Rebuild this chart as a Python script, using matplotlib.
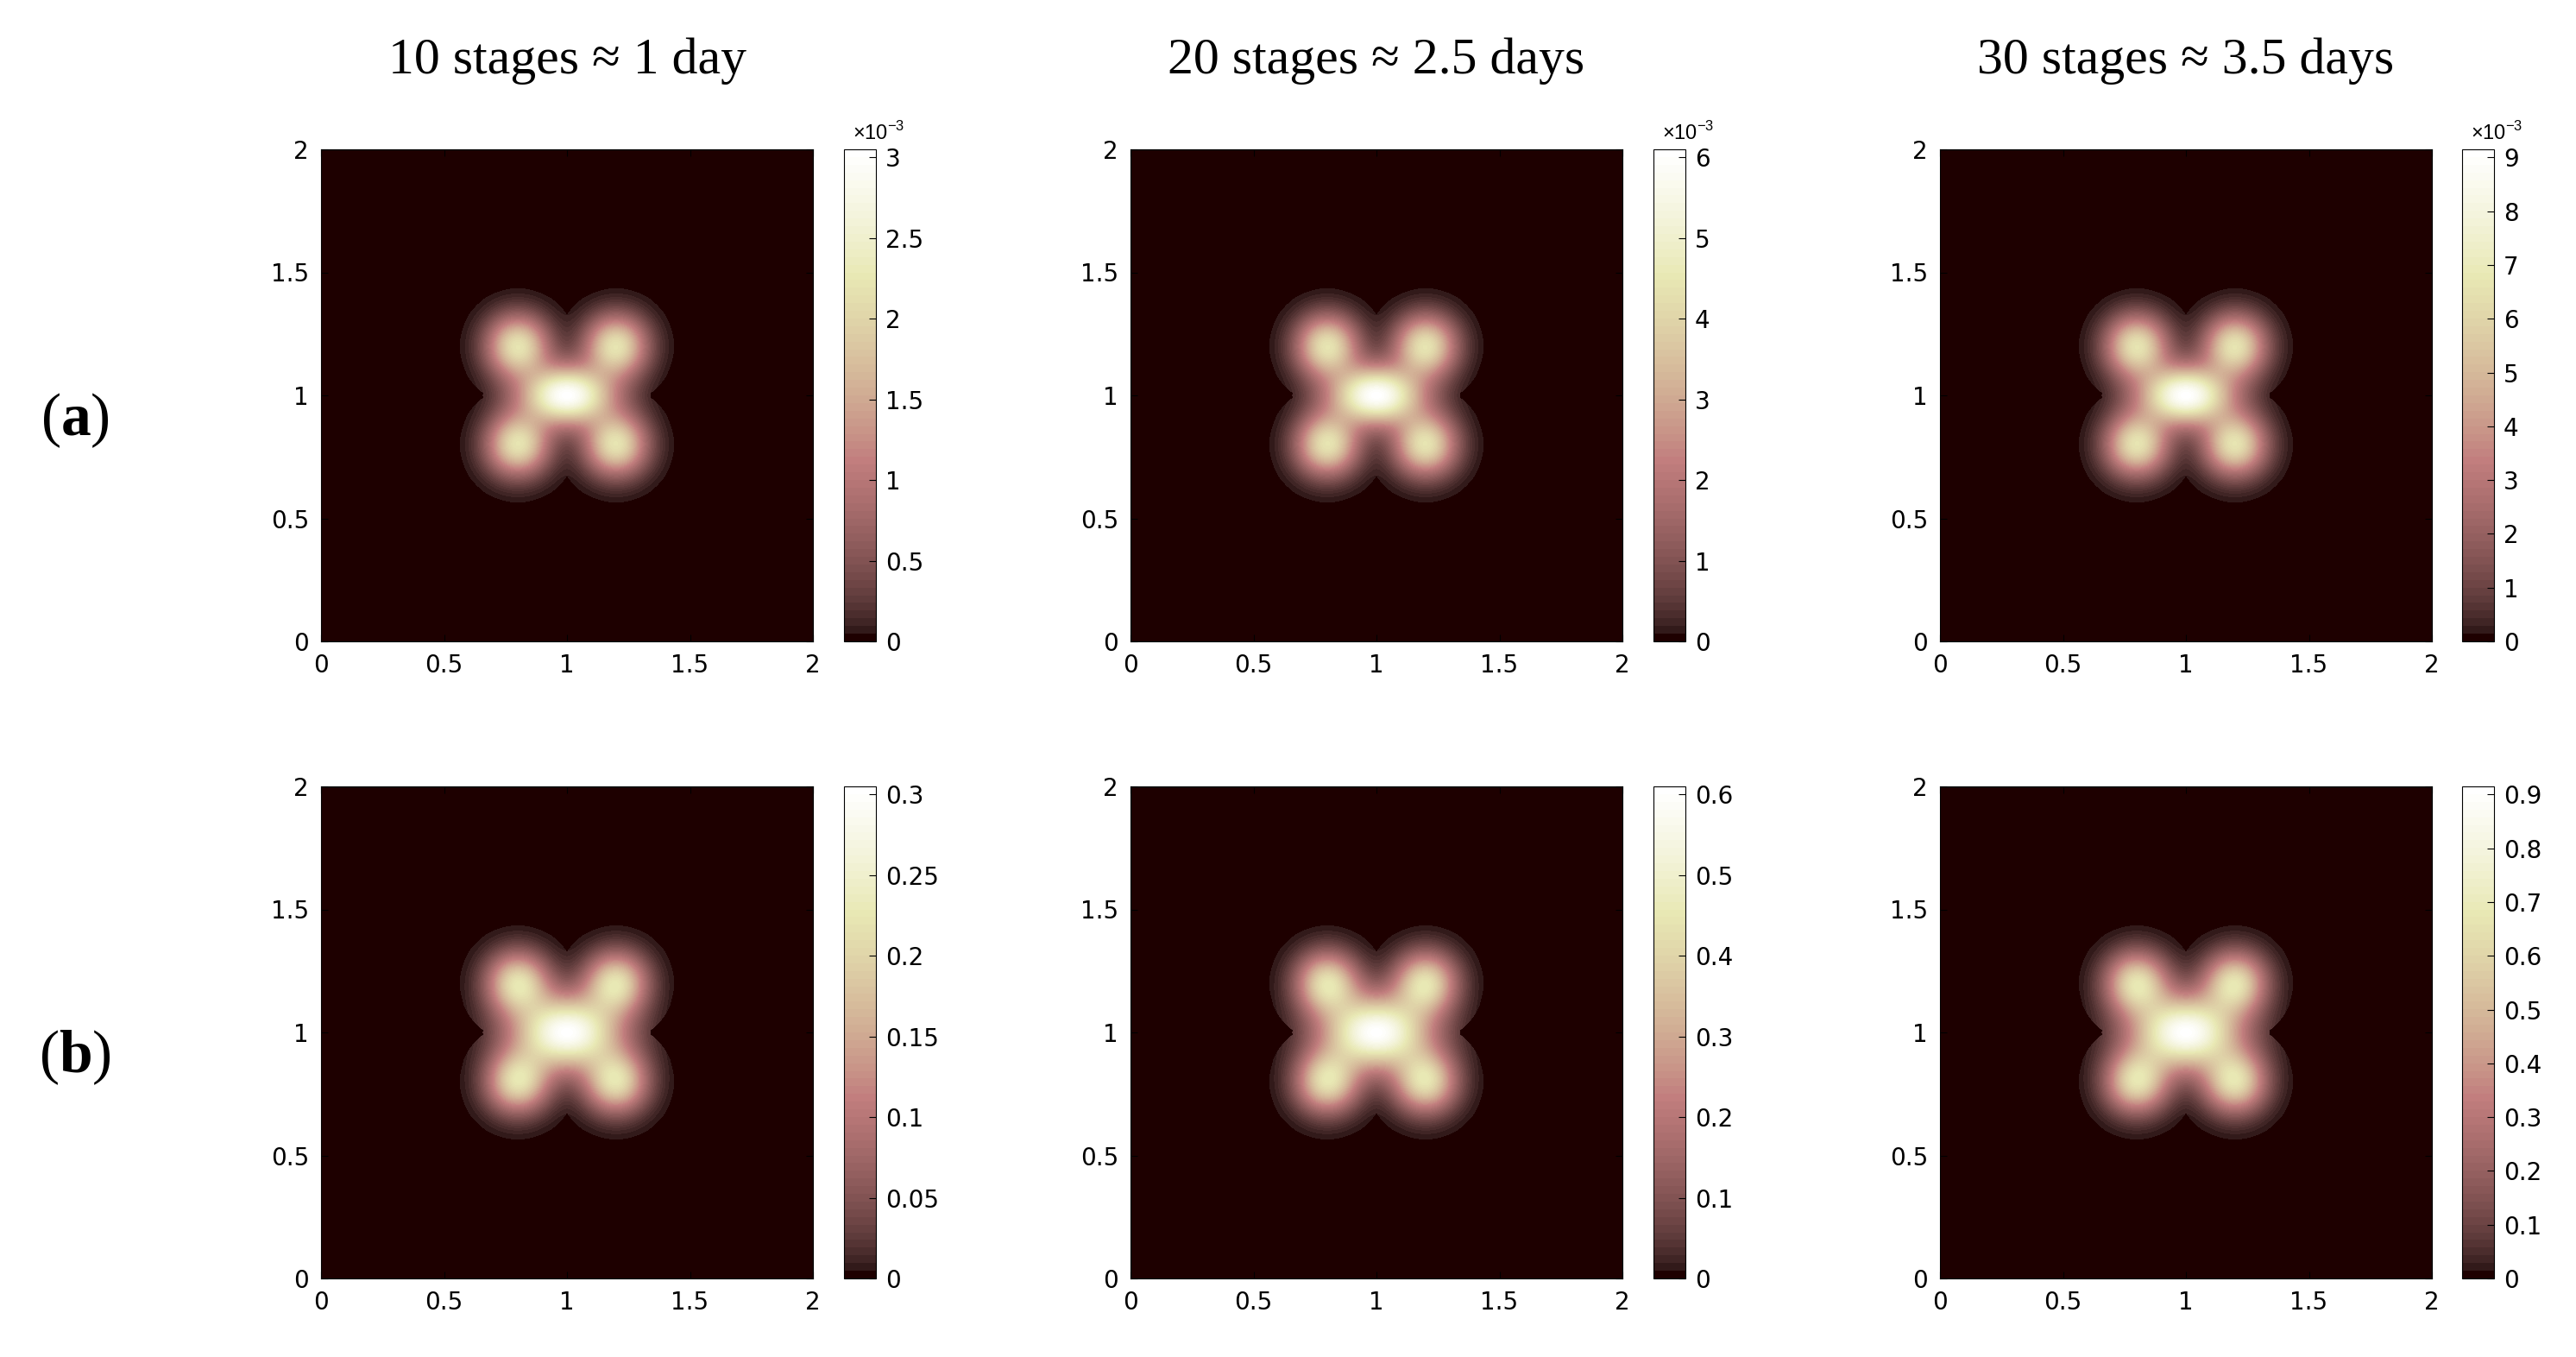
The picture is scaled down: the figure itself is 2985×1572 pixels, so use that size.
import numpy as np
import matplotlib
matplotlib.use("Agg")
import matplotlib.pyplot as plt
from matplotlib.colors import ListedColormap

plt.rcParams["mathtext.fontset"] = "custom"
plt.rcParams["mathtext.bf"] = "Liberation Serif:bold"
plt.rcParams["mathtext.rm"] = "Liberation Sans"

titles = ["10 stages \u2248 1 day", "20 stages \u2248 2.5 days", "30 stages \u2248 3.5 days"]
row_labels = ["a", "b"]
peaks = [[3.05e-3, 6.1e-3, 9.15e-3], [0.305, 0.61, 0.915]]
cbar_ticks = [[np.arange(0, 3.01, 0.5) * 1e-3, np.arange(0, 6.1, 1) * 1e-3, np.arange(0, 9.1, 1) * 1e-3],
              [np.arange(0, 0.301, 0.05), np.arange(0, 0.61, 0.1), np.arange(0, 0.91, 0.1)]]
cbar_labels = [[["0", "0.5", "1", "1.5", "2", "2.5", "3"], [str(i) for i in range(7)], [str(i) for i in range(10)]],
               [["0", "0.05", "0.1", "0.15", "0.2", "0.25", "0.3"],
                ["0", "0.1", "0.2", "0.3", "0.4", "0.5", "0.6"],
                ["0", "0.1", "0.2", "0.3", "0.4", "0.5", "0.6", "0.7", "0.8", "0.9"]]]
# blob model parameters
corner_x = [0.8, 1.2, 0.8, 1.2]
corner_y = [0.8, 0.8, 1.2, 1.2]
corner_R = 0.235
corner_sigma = 0.085
corner_w = [0.72, 0.70]          # row a, row b
centre_sigma = [(0.125, 0.08), (0.145, 0.10)]
centre_support = (0.34, 0.325)

# MATLAB pink(64)
n = 64
i = np.arange(1, n + 1)
hot = np.stack([np.clip(i / (n * 3 / 8), 0, 1),
                np.clip((i - n * 3 / 8) / (n * 3 / 8), 0, 1),
                np.clip((i - n * 3 / 4) / (n / 4), 0, 1)], 1)
gray = np.repeat(((i - 1) / (n - 1))[:, None], 3, 1)
pinkc = np.sqrt((2 * gray + hot) / 3)
cmap = ListedColormap(pinkc)

x = np.linspace(0, 2, 601)
X, Y = np.meshgrid(x, x)
def field(r):
    f = np.zeros_like(X)
    mask = np.zeros_like(X, dtype=bool)
    for cx, cy in zip(corner_x, corner_y):
        d2 = (X - cx) ** 2 + (Y - cy) ** 2
        f += corner_w[r] * np.exp(-d2 / (2 * corner_sigma ** 2))
        mask |= d2 <= corner_R ** 2
    sx, sy = centre_sigma[r]
    f += np.exp(-((X - 1) ** 2 / (2 * sx ** 2) + (Y - 1) ** 2 / (2 * sy ** 2)))
    mask |= ((X - 1) / centre_support[0]) ** 2 + ((Y - 1) / centre_support[1]) ** 2 <= 1
    f = np.where(mask, f, 0)
    return f / f.max()

W, H = 2985, 1572
fig = plt.figure(figsize=(W / 100, H / 100), dpi=100)
lefts = [372, 1310, 2248]
tops = [173, 911]
aw, ah = 570, 570
cbl = [978, 1916, 2853]
cbw = 37
for r in range(2):
    F = field(r)
    for c in range(3):
        ax = fig.add_axes([lefts[c] / W, 1 - (tops[r] + ah) / H, aw / W, ah / H])
        ax.set_facecolor(pinkc[0])
        vmax = peaks[r][c]
        Z = F * vmax * 0.995
        levels = np.linspace(0, vmax, n + 1)
        cs = ax.contourf(X, Y, Z, levels=levels, cmap=cmap, vmin=0, vmax=vmax)
        ax.set_xlim(0, 2); ax.set_ylim(0, 2)
        ax.set_xticks([0, 0.5, 1, 1.5, 2]); ax.set_yticks([0, 0.5, 1, 1.5, 2])
        ax.set_xticklabels(["0", "0.5", "1", "1.5", "2"]); ax.set_yticklabels(["0", "0.5", "1", "1.5", "2"])
        ax.tick_params(direction="in", length=6, labelsize=20, top=True, right=True, pad=10)
        for s in ax.spines.values():
            s.set_linewidth(0.8)
        cax = fig.add_axes([cbl[c] / W, 1 - (tops[r] + ah) / H, cbw / W, ah / H])
        cb = fig.colorbar(cs, cax=cax)
        cb.set_ticks(cbar_ticks[r][c]); cb.set_ticklabels(cbar_labels[r][c])
        cax.tick_params(direction="in", length=6, labelsize=20, pad=8)
        cb.outline.set_linewidth(0.8)
        if r == 0:
            fig.text((cbl[c] + 10) / W, 1 - (tops[r] - 6) / H, r"$\times10^{-3}$", fontsize=17,
                     family="Liberation Sans", va="bottom")
            fig.text((lefts[c] + aw / 2) / W, 1 - 71 / H, titles[c], fontsize=43,
                     family="Liberation Serif", ha="center", va="center")
for r, lab in enumerate(row_labels):
    y = [487, 1225][r]
    fig.text(87 / W, 1 - y / H, "(" + r"$\mathbf{" + lab + "}$" + ")", fontsize=50,
             family="Liberation Serif", ha="center", va="center")
fig.savefig("out.png", dpi=100, facecolor="white")
